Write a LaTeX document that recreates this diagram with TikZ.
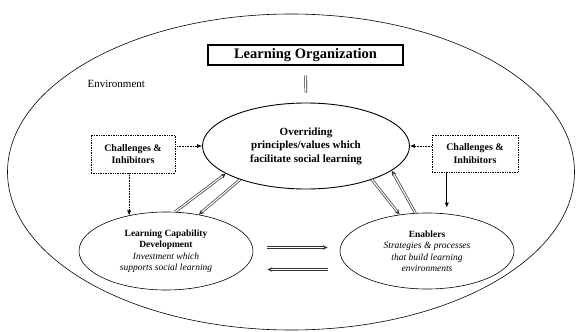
\documentclass[tikz,border=0pt]{standalone}
\usepackage{fontspec}
\setmainfont{Liberation Serif}
\usetikzlibrary{arrows.meta,shapes.geometric,calc}
\begin{document}
\begin{tikzpicture}[x=1pt,y=-1pt,
  ell/.style={ellipse,draw,inner sep=0pt,line width=0.6pt,align=center},
  boxn/.style={rectangle,draw,inner sep=0pt,align=center},
  link/.style={draw=black!80,line width=0.7pt,double=white,double distance=1.2pt},
  linkarr/.style={link,-{Stealth[length=5pt,width=4.5pt]}},
  feed/.style={densely dotted,line width=0.6pt,-{Latex[length=5pt,width=4pt]}},
  feeds/.style={line width=0.7pt,-{Latex[length=5pt,width=4pt]}},
  tb/.style={font=\bfseries\fontsize{10}{12.5}\selectfont},
  tc/.style={font=\bfseries\fontsize{11}{13.5}\selectfont},
  ts/.style={font=\fontsize{9.5}{11.5}\selectfont}
]
\useasboundingbox (0,0) rectangle (576,332);
% environment
\node[ell, minimum width=567pt, minimum height=316pt] (env) at (291,172) {};
\node[font=\fontsize{11}{12}\selectfont, anchor=west] (envt) at (84,84) {Environment};
% top box
\node[boxn, line width=1.2pt, minimum width=195pt, minimum height=20pt,
      font=\bfseries\fontsize{14.5}{16}\selectfont] (lo) at (305.5,55) {Learning Organization};
% central ellipse
\node[ell, line width=0.9pt, minimum width=207pt, minimum height=86pt, tc] (ov) at (306,146)
  {Overriding\\principles/values which\\facilitate social learning};
% challenges boxes
\node[boxn, densely dotted, line width=0.7pt, minimum width=84pt, minimum height=38pt, tb] (cl) at (133,154)
  {Challenges \&\\Inhibitors};
\node[boxn, densely dotted, line width=0.7pt, minimum width=86pt, minimum height=37pt, tb] (cr) at (475,153.5)
  {Challenges \&\\Inhibitors};
% lower ellipses
\node[ell, minimum width=174pt, minimum height=78pt, ts] (ll) at (166,251)
  {\textbf{Learning Capability}\\\textbf{Development}\\\textit{Investment which}\\\textit{supports social learning}};
\node[ell, minimum width=174pt, minimum height=76pt, ts] (lr) at (427,251)
  {\textbf{Enablers}\\\textit{Strategies \& processes}\\\textit{that build learning}\\\textit{environments}};
% connectors
\draw[link, shorten <=10pt, shorten >=10pt] (lo.south) -- (ov.north);
\draw[feed] (cl.east |- ov.west) -- (ov.west);
\draw[feed] (cr.west |- ov.east) -- (ov.east);
\draw[feed] (ll.136 |- cl.south) -- (ll.136);
\draw[feeds] (lr.62 |- cr.south) -- ([yshift=6pt]lr.62);
% diagonal pairs
\draw[linkarr] (ll.77) -- (ov.199);
\draw[linkarr] (ov.207) -- (ll.48);
\draw[linkarr] (ov.333) -- (lr.127);
\draw[linkarr] (lr.107) -- (ov.344);
% horizontal pair
\draw[linkarr] ($(ll.east)+(14,-3.5)$) -- ($(lr.west)+(-12,-3.5)$);
\draw[linkarr] ($(lr.west)+(-12,18.5)$) -- ($(ll.east)+(14,18.5)$);
\end{tikzpicture}
\end{document}
